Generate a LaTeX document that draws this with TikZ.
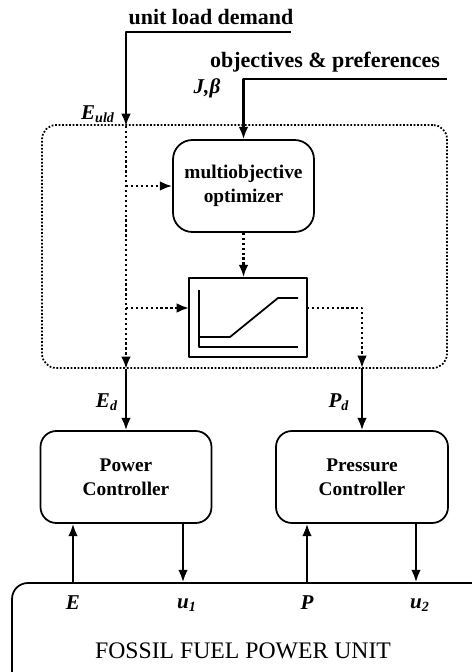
\documentclass[tikz,border=0pt]{standalone}
\usepackage{fontspec}
\setmainfont{Liberation Serif}
\usetikzlibrary{arrows.meta}
\begin{document}
\begin{tikzpicture}[x=.02cm, y=-.02cm, line join=round, >={Latex[length=7pt,width=5.5pt]},
	font=\fontsize{11}{13.5}\selectfont\bfseries,
	block/.style={draw, line width=1pt, rounded corners=9pt, align=center, inner sep=0pt},
	sig/.style={->, line width=1.2pt},
	dots/.style={->, line width=1.3pt, dash pattern=on 1.3pt off 1.5pt},
	lab/.style={font=\fontsize{12}{14}\selectfont\bfseries\itshape}]
	\useasboundingbox (0,0) rectangle (472,672);
	% inputs
	\node[font=\fontsize{12.5}{14}\selectfont\bfseries] (uldtxt) at (211,17) {unit load demand};
	\node[font=\fontsize{12.5}{14}\selectfont\bfseries] (objtxt) at (325,62) {objectives \& preferences};
	\coordinate (uld) at (291,32); \coordinate (obj) at (447,79);
	\node[lab] (euld) at (98,114) {E\textsubscript{uld}};
	\node[lab] (jb) at (207,88) {J,β};
	% supervisory level
	\node[draw, line width=1pt, densely dotted, rounded corners=8pt, minimum width=8.1cm, minimum height=4.86cm] (sup) at (244.5,246.5) {};
	\node[block, rounded corners=11pt, minimum width=2.82cm, minimum height=1.84cm] (opt) at (243.5,186) {multiobjective\\optimizer};
	\node[draw, line width=1pt, minimum width=2.36cm, minimum height=1.58cm] (plot) at (248,317.5) {};
	\draw[line width=1pt] (199,290) -- (199,347) -- (298,347);
	\draw[line width=1pt] (199,337) -- (230,337) -- (278,298) -- (298,298);
	\coordinate (ein) at (126,126); \coordinate (eout) at (ein |- sup.south);
	\coordinate (pin) at (189,308); \coordinate (pout) at (307,308);
	\coordinate (pdn) at (362,368);
	\draw[sig] (uld) -| (ein);
	\draw[sig] (obj) -| (opt.north);
	\draw[dots] (ein) -- (eout);
	\draw[dots] (ein |- opt.west) -- (opt.west);
	\draw[dots] (ein |- pin) -- (pin);
	\draw[dots] (opt.south) -- (opt.south |- plot.north);
	\draw[dots] (pout) -| (pdn);
	% controllers
	\node[block, minimum width=3.42cm, minimum height=1.84cm] (pc) at (126,477) {Power\\Controller};
	\node[block, minimum width=3.44cm, minimum height=1.84cm] (prc) at (362,477) {Pressure\\Controller};
	\node[lab] (ed) at (103,402) {E\rlap{\textsubscript{d}}};
	\node[lab] (pd) at (335,402) {P\rlap{\textsubscript{d}}};
	\draw[sig] (eout) -- (pc.north);
	\draw[sig] (pdn) -- (prc.north);
	% plant
	\begin{scope}
		\clip (0,0) rectangle (472,672);
		\node[block, minimum width=9.6cm, minimum height=2.34cm] (unit) at (252,641.5) {};
	\end{scope}
	\node[font=\fontsize{13.5}{15}\selectfont] (funit) at (243,651) {FOSSIL FUEL POWER UNIT};
	\node[lab] (e) at (73,603) {E};
	\node[lab] (u1) at (183,605) {u\rlap{\textsubscript{1}}};
	\node[lab] (p) at (307,603) {P};
	\node[lab] (u2) at (416,605) {u\rlap{\textsubscript{2}}};
	\draw[sig] (e |- unit.north) -- (e |- pc.south);
	\draw[sig] (u1 |- pc.south) -- (u1 |- unit.north);
	\draw[sig] (p |- unit.north) -- (p |- prc.south);
	\draw[sig] (u2 |- prc.south) -- (u2 |- unit.north);
\end{tikzpicture}
\end{document}
